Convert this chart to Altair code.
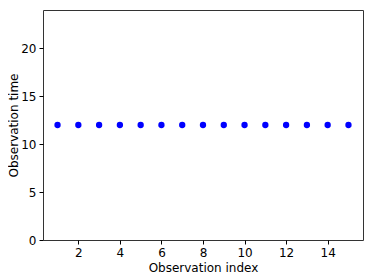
import altair as alt
import pandas as pd

obs_index = list(range(1, 16))
obs_time = [12] * 15

df = pd.DataFrame({"index": obs_index, "time": obs_time})

font = "DejaVu Sans"

chart = alt.Chart(df).mark_circle(size=40, color="#0000ff", opacity=1).encode(
    x=alt.X("index:Q", scale=alt.Scale(domain=[0.3, 15.7], nice=False, zero=False),
            axis=alt.Axis(title="Observation index", values=[2, 4, 6, 8, 10, 12, 14],
                          grid=False, tickSize=4, tickColor="#000", domain=False,
                          labelFont=font, labelFontSize=12, labelColor="#000",
                          titleFont=font, titleFontSize=12, titleFontWeight="normal",
                          titleColor="#000", labelPadding=3,
                          titleX=160, titleY=27, titleBaseline="middle", titleAlign="center")),
    y=alt.Y("time:Q", scale=alt.Scale(domain=[0, 24], nice=False),
            axis=alt.Axis(title="Observation time", values=[0, 5, 10, 15, 20],
                          grid=False, tickSize=4, tickColor="#000", domain=False,
                          labelFont=font, labelFontSize=12, labelColor="#000",
                          titleFont=font, titleFontSize=12, titleFontWeight="normal",
                          titleColor="#000", labelPadding=3,
                          titleX=-30, titleY=115, titleBaseline="middle", titleAlign="center",
                          titleAngle=270)),
).properties(
    width=320, height=230,
    autosize=alt.AutoSizeParams(type="none"),
    padding={"left": 35, "top": 2, "right": 3, "bottom": 38},
).configure_view(stroke="#333", strokeWidth=1)

chart.save("out.html", embed_options={"renderer": "svg", "actions": False})
